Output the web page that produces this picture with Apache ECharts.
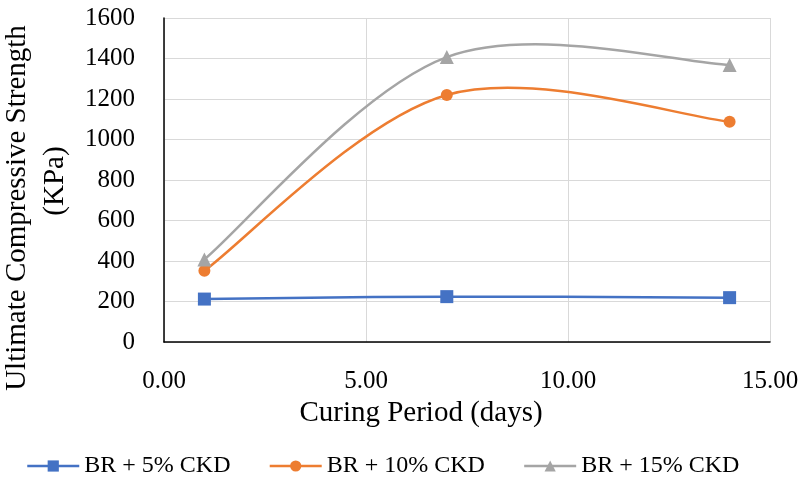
<!DOCTYPE html>
<html><head><meta charset="utf-8">
<script src="https://cdn.jsdelivr.net/npm/echarts@6/dist/echarts.min.js"></script>
<style>html,body{margin:0;padding:0;background:#fff}#c{width:802px;height:481px}</style>
</head><body><div id="c"></div>
<script>
const days = [1, 7, 14];
const ckd5 = [212, 224, 219];
const ckd10 = [352, 1220, 1088];
const ckd15 = [408, 1407, 1368];
const seriesNames = ['BR + 5% CKD', 'BR + 10% CKD', 'BR + 15% CKD'];
const xTicks = [0, 5, 10, 15];
const yTicks = [0, 200, 400, 600, 800, 1000, 1200, 1400, 1600];

const FONT = '"Liberation Serif", "Times New Roman", serif';
const colors = ['#4472C4', '#ED7D31', '#A5A5A5'];
const symbols = ['rect', 'circle', 'triangle'];
const sizes = [13, 12, 14];
const vals = [ckd5, ckd10, ckd15];
const pairs = v => days.map((d, i) => [d, v[i]]);

// Excel-style smoothed curve (Catmull-Rom -> Bezier, 1/6 tension) in pixel space
function curveSeries(v, i) {
  return {
    name: seriesNames[i], type: 'custom', data: pairs(v), z: 2,
    renderItem: function (params, api) {
      if (params.dataIndex !== 0) return null;
      const pts = pairs(v).map(p => api.coord(p));
      const n = pts.length;
      let path = 'M' + pts[0][0] + ' ' + pts[0][1];
      for (let k = 0; k < n - 1; k++) {
        const p0 = pts[Math.max(k - 1, 0)], p1 = pts[k], p2 = pts[k + 1], p3 = pts[Math.min(k + 2, n - 1)];
        const c1 = [p1[0] + (p2[0] - p0[0]) / 6, p1[1] + (p2[1] - p0[1]) / 6];
        const c2 = [p2[0] - (p3[0] - p1[0]) / 6, p2[1] - (p3[1] - p1[1]) / 6];
        path += ' C' + c1[0] + ' ' + c1[1] + ' ' + c2[0] + ' ' + c2[1] + ' ' + p2[0] + ' ' + p2[1];
      }
      return {
        type: 'path', shape: {pathData: path},
        style: {fill: null, stroke: colors[i], lineWidth: 2.5}
      };
    }
  };
}

const chart = echarts.init(document.getElementById('c'), null, {renderer: 'canvas'});
chart.setOption({
  animation: false,
  color: colors,
  grid: {left: 164, right: 32, top: 18, bottom: 139, outerBoundsMode: 'none', containLabel: false},
  legend: {
    left: 21, top: 449,
    itemWidth: 52, itemHeight: 14, itemGap: 38,
    textStyle: {fontFamily: FONT, fontSize: 24, color: '#000'},
    data: seriesNames.map((nm, i) => ({
      name: nm,
      lineStyle: {color: colors[i], width: 2.5, opacity: 1},
      itemStyle: {color: colors[i]}
    }))
  },
  xAxis: {
    type: 'value', min: xTicks[0], max: xTicks[xTicks.length - 1], interval: 5,
    name: 'Curing Period (days)', nameLocation: 'middle', nameGap: 55,
    nameTextStyle: {fontFamily: FONT, fontSize: 29, color: '#000', padding: [0, 92, 0, 0]},
    axisLine: {show: true, onZero: false, lineStyle: {color: '#000', width: 1.5}},
    axisTick: {show: false},
    axisLabel: {fontFamily: FONT, fontSize: 25, color: '#000', margin: 27,
      formatter: v => v.toFixed(2)},
    splitLine: {show: true, lineStyle: {color: '#D9D9D9', width: 1}}
  },
  yAxis: {
    type: 'value', min: yTicks[0], max: yTicks[yTicks.length - 1], interval: 200,
    name: '{a|Ultimate Compressive Strength}\n{b|(KPa)}', nameLocation: 'middle', nameGap: 78,
    nameTextStyle: {fontFamily: FONT, fontSize: 29, color: '#000', lineHeight: 38,
      padding: [0, 56, 0, 0],
      rich: {a: {fontFamily: FONT, fontSize: 29, color: '#000', lineHeight: 38},
             b: {fontFamily: FONT, fontSize: 29, color: '#000', lineHeight: 38, padding: [0, 0, 0, 54]}}},
    axisLine: {show: true, lineStyle: {color: '#000', width: 1.5}},
    axisTick: {show: false},
    axisLabel: {fontFamily: FONT, fontSize: 25, color: '#000', margin: 29, formatter: v => String(v)},
    splitLine: {show: true, lineStyle: {color: '#D9D9D9', width: 1}}
  },
  series: vals.map((v, i) => ({
    name: seriesNames[i], type: 'line',
    data: pairs(v), z: 3,
    symbol: symbols[i], symbolSize: sizes[i],
    lineStyle: {width: 2.5, color: colors[i], opacity: 0},
    itemStyle: {color: colors[i]}
  })).concat(vals.map(curveSeries))
});
</script></body></html>
